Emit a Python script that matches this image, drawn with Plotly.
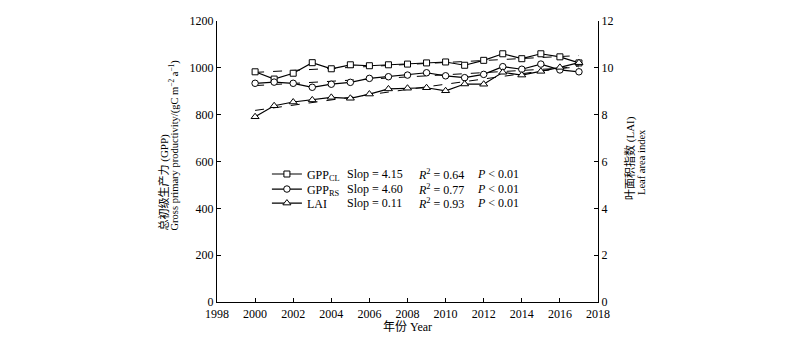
import numpy as np
import plotly.graph_objects as go

years = list(range(2000, 2018))
gpp_cl = [983, 952, 977, 1022, 996, 1013, 1009, 1013, 1016, 1021, 1025, 1011, 1032, 1060, 1039, 1060, 1047, 1021]
gpp_rs = [934, 939, 934, 917, 930, 938, 955, 962, 969, 979, 966, 958, 972, 1005, 994, 1016, 991, 983]
lai = [7.91, 8.38, 8.54, 8.63, 8.74, 8.70, 8.88, 9.10, 9.13, 9.15, 9.02, 9.31, 9.30, 9.81, 9.69, 9.85, 10.02, 10.22]

names = ["GPP<sub>CL</sub>", "GPP<sub>RS</sub>", "LAI"]
slopes = ["4.15", "4.60", "0.11"]
r2 = ["0.64", "0.77", "0.93"]
pvals = ["0.01", "0.01", "0.01"]

FONT = "Liberation Serif, Times New Roman, Noto Sans CJK SC, serif"
CJK = "Liberation Serif, Noto Sans CJK SC, serif"

fig = go.Figure()
x = np.array(years, dtype=float)
series = [(gpp_cl, "y", "square", 6), (gpp_rs, "y", "circle", 6.5), (lai, "y2", "triangle-up", 7)]
legend_ids = ["legend", "legend2", "legend3"]
row_y = [0.4555, 0.402, 0.352]

# fit lines (behind markers)
for vals, ax, sym, sz in series:
    k, b = np.polyfit(x, np.array(vals, dtype=float), 1)
    fig.add_trace(go.Scatter(x=years, y=list(k * x + b), mode="lines", yaxis=ax,
                             line=dict(color="black", width=1, dash="dash"),
                             showlegend=False, hoverinfo="skip"))

for (vals, ax, sym, sz), nm, lg in zip(series, names, legend_ids):
    fig.add_trace(go.Scatter(x=years, y=vals, mode="lines+markers", yaxis=ax, name=nm,
                             legend=lg,
                             line=dict(color="black", width=1.2),
                             marker=dict(symbol=sym, size=sz, color="white",
                                         line=dict(color="black", width=1))))

axis_common = dict(showline=True, linecolor="black", linewidth=1, ticks="inside",
                   ticklen=4, tickcolor="black", showgrid=False, zeroline=False,
                   tickfont=dict(family=FONT, size=12, color="black"))

legend_style = dict(x=0.131, xanchor="left", yanchor="middle", bgcolor="rgba(0,0,0,0)",
                    font=dict(family=FONT, size=12, color="black"), itemwidth=30)

fig.update_layout(
    width=800, height=347,
    margin=dict(l=217, r=202, t=21, b=45),
    paper_bgcolor="white", plot_bgcolor="white",
    font=dict(family=FONT, size=12, color="black"),
    xaxis=dict(range=[1998, 2018], dtick=2, tick0=1998, ticklabelstandoff=1, **axis_common),
    yaxis=dict(range=[0, 1200], dtick=200, **axis_common),
    yaxis2=dict(range=[0, 12], dtick=2, overlaying="y", side="right", **axis_common),
    legend=dict(y=row_y[0], **legend_style),
    legend2=dict(y=row_y[1], **legend_style),
    legend3=dict(y=row_y[2], **legend_style),
    showlegend=True,
)

for i in range(3):
    fig.add_annotation(xref="paper", yref="paper", x=0.336, y=row_y[i], xanchor="left",
                       yanchor="middle", showarrow=False, text=f"Slop = {slopes[i]}",
                       font=dict(family=FONT, size=12))
    fig.add_annotation(xref="paper", yref="paper", x=0.522, y=row_y[i], xanchor="left",
                       yanchor="middle", showarrow=False,
                       text=f"<i>R</i><sup>2</sup> = {r2[i]}", font=dict(family=FONT, size=12))
    fig.add_annotation(xref="paper", yref="paper", x=0.677, y=row_y[i], xanchor="left",
                       yanchor="middle", showarrow=False,
                       text=f"<i>P</i> &lt; {pvals[i]}", font=dict(family=FONT, size=12))

# axis titles (one annotation per line for tight line spacing)
def px_x(p):
    return (p - 217) / 381.0

def px_y(p):
    return (302 - p) / 281.0

fig.add_annotation(xref="paper", yref="paper", x=px_x(163), y=px_y(233), xanchor="center",
                   yanchor="bottom", showarrow=False, textangle=-90,
                   text="总初级生产力 (GPP)", font=dict(family=CJK, size=11, color="black"))
fig.add_annotation(xref="paper", yref="paper", x=px_x(173), y=px_y(233), xanchor="center",
                   yanchor="bottom", showarrow=False, textangle=-90,
                   text="Gross primary productivity/(gC m<sup>−2</sup> a<sup>−1</sup>)",
                   font=dict(family=CJK, size=10.5, color="black"))
fig.add_annotation(xref="paper", yref="paper", x=px_x(630), y=px_y(158), xanchor="center",
                   yanchor="middle", showarrow=False, textangle=-90,
                   text="叶面积指数 (LAI)", font=dict(family=CJK, size=11, color="black"))
fig.add_annotation(xref="paper", yref="paper", x=px_x(641), y=px_y(162), xanchor="center",
                   yanchor="middle", showarrow=False, textangle=-90,
                   text="Leaf area index", font=dict(family=CJK, size=10.5, color="black"))
fig.add_annotation(xref="paper", yref="paper", x=0.4987, y=-0.089, xanchor="center",
                   yanchor="middle", showarrow=False, text="年份 Year",
                   font=dict(family=CJK, size=12, color="black"))

fig.write_html("out.html")
